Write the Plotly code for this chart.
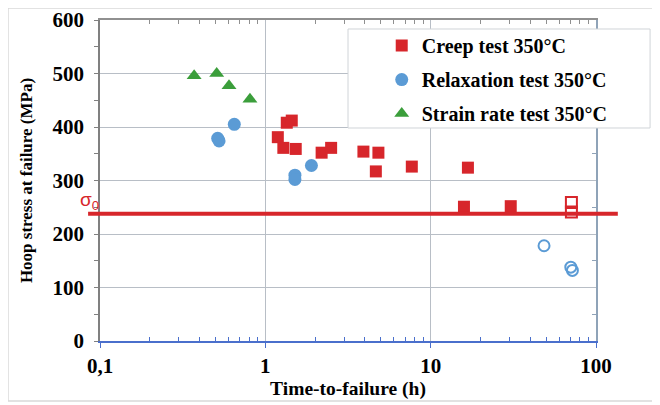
import plotly.graph_objects as go

# creep tests (filled = failed, open = not failed)
creep_t = [1.19, 1.285, 1.348, 1.445, 1.527, 2.19, 2.50, 3.92, 4.83, 4.66, 7.69, 16.8, 15.9, 30.5]
creep_s = [381, 361, 408, 412, 359, 352, 361, 354, 352, 317, 326, 324, 251, 252]
creep_open_t = [71.0, 71.0]
creep_open_s = [259, 241]

relax_t = [0.515, 0.525, 0.649, 1.51, 1.51, 1.90]
relax_s = [379, 374, 405, 310, 302, 328]
relax_open_t = [48.5, 70.4, 72.0]
relax_open_s = [178, 138, 132]

strain_t = [0.371, 0.508, 0.603, 0.807]
strain_s = [496, 500, 477, 452]

sigma0 = 238

x_tickvals = [0.1, 1, 10, 100]
x_ticktext = ["0,1", "1", "10", "100"]
x_minor = [m * 10 ** e for e in (-1, 0, 1) for m in range(2, 10)]

RED = '#d7262b'
BLUE = '#5b9bd5'
GREEN = '#3b9e3b'
SERIF = 'Liberation Serif'

fig = go.Figure()

fig.add_trace(go.Scatter(
    x=creep_t, y=creep_s, mode='markers', name='Creep test 350°C',
    legendgroup='a',
    marker={'symbol': 'square', 'size': 12, 'color': RED}
))
fig.add_trace(go.Scatter(
    x=relax_t, y=relax_s, mode='markers', name='Relaxation test 350°C',
    legendgroup='b',
    marker={'symbol': 'circle', 'size': 13, 'color': BLUE}
))
fig.add_trace(go.Scatter(
    x=strain_t, y=strain_s, mode='markers', name='Strain rate test 350°C',
    legendgroup='c',
    marker={'symbol': 'triangle-up', 'size': 13, 'color': GREEN}
))
fig.add_trace(go.Scatter(
    x=creep_open_t, y=creep_open_s, mode='markers', showlegend=False,
    marker={'symbol': 'square-open', 'size': 11, 'color': RED, 'line': {'width': 2}}
))
fig.add_trace(go.Scatter(
    x=relax_open_t, y=relax_open_s, mode='markers', showlegend=False,
    marker={'symbol': 'circle-open', 'size': 11, 'color': BLUE, 'line': {'width': 2}}
))

grid = '#b8bec6'

# the page adds an 8px body margin, so the figure is 8px smaller than the window
fig.update_layout(
    width=652, height=397,
    margin={'l': 92, 'r': 64, 't': 12, 'b': 64},
    paper_bgcolor='white', plot_bgcolor='white',
    font={'family': SERIF, 'color': 'black', 'size': 20},
    xaxis={
        'type': 'log', 'range': [-1, 2], 'automargin': False,
        'tickvals': x_tickvals, 'ticktext': x_ticktext,
        'tickfont': {'family': SERIF, 'size': 21, 'weight': 'bold'},
        'showgrid': True, 'gridcolor': grid, 'gridwidth': 1,
        'showline': True, 'linecolor': '#4a6fcc', 'linewidth': 1.5,
        'ticks': 'outside', 'ticklen': 5, 'tickcolor': '#4a6fcc',
        'minor': {'tickvals': x_minor, 'ticks': 'inside', 'ticklen': 4,
                  'tickcolor': '#4a6fcc', 'showgrid': False},
        'ticklabelstandoff': 0,
        'zeroline': False,
        'title': {'text': '<b>Time-to-failure (h)</b>',
                  'font': {'family': SERIF, 'size': 19.5}, 'standoff': 0},
    },
    yaxis={
        'range': [0, 600], 'dtick': 100, 'automargin': False,
        'tickfont': {'family': SERIF, 'size': 21, 'weight': 'bold'},
        'showgrid': True, 'gridcolor': grid, 'gridwidth': 1,
        'showline': True, 'linecolor': '#808080', 'linewidth': 1.5,
        'ticks': 'outside', 'ticklen': 4, 'tickcolor': '#808080',
        'minor': {'dtick': 50, 'ticks': 'outside', 'ticklen': 4,
                  'tickcolor': '#808080', 'showgrid': False},
        'ticklabelstandoff': 6,
        'zeroline': False,
        'title': {'text': '<b>Hoop stress at failure (MPa)</b>',
                  'font': {'family': SERIF, 'size': 17}, 'standoff': 16},
    },
    xaxis2={
        'type': 'log', 'range': [-1, 2], 'overlaying': 'x', 'side': 'top',
        'automargin': False,
        'showticklabels': False, 'showgrid': False,
        'showline': True, 'linecolor': '#909090', 'linewidth': 1.5,
        'tickvals': x_minor, 'ticks': 'inside', 'ticklen': 4, 'tickcolor': '#909090',
    },
    yaxis2={
        'range': [0, 600], 'overlaying': 'y', 'side': 'right', 'automargin': False,
        'showticklabels': False, 'showgrid': False,
        'showline': True, 'linecolor': '#8fa3b8', 'linewidth': 1.5,
        'tickvals': [50, 150, 250, 350, 450, 550], 'ticks': 'inside', 'ticklen': 4,
        'tickcolor': '#8fa3b8',
    },
    legend={
        'x': 0.568, 'y': 0.981, 'xanchor': 'left', 'yanchor': 'top',
        'bgcolor': 'rgba(0,0,0,0)', 'borderwidth': 0,
        'font': {'family': SERIF, 'size': 20, 'weight': 'bold'},
        'tracegroupgap': 5, 'itemwidth': 30,
    },
    showlegend=True,
)

# dummy trace so the mirrored axes are drawn
fig.add_trace(go.Scatter(x=[None], y=[None], xaxis='x2', yaxis='y2',
                         showlegend=False, hoverinfo='skip'))

# sigma_0 line extending past the plot frame
fig.add_shape(type='line', xref='paper', yref='y', x0=-0.024, x1=1.044,
              y0=sigma0, y1=sigma0, line={'color': RED, 'width': 4}, layer='above')
fig.add_annotation(xref='paper', yref='y', x=-0.045, y=261, text='σ<sub>0</sub>',
                   showarrow=False, font={'family': 'Liberation Sans', 'size': 19, 'color': RED})

# legend box
fig.add_shape(type='rect', xref='paper', yref='paper', x0=0.5, x1=1.109,
              y0=0.6636, y1=0.972, line={'color': '#d0d4d8', 'width': 1},
              fillcolor='white', layer='above')
# outer frame
fig.add_shape(type='rect', xref='paper', yref='paper', x0=-0.1855, x1=1.121,
              y0=-0.187, y1=1.0374, line={'color': '#d9d9d9', 'width': 1.5})

fig.write_html("out.html")
